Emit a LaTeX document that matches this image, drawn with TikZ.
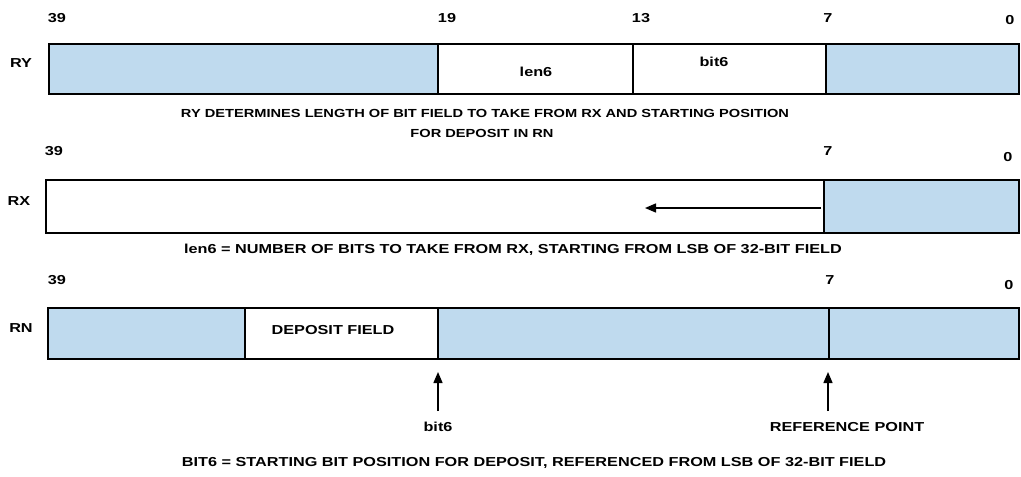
\documentclass[tikz,border=0pt]{standalone}
\usepackage{fontspec}
\setmainfont{Liberation Sans}[FakeStretch=1.25]
\usetikzlibrary{arrows.meta}
\definecolor{regblue}{HTML}{BFDAEE}
\begin{document}
\begin{tikzpicture}[x=1pt,y=-1pt,
  txt/.style={font=\fontsize{13}{15}\selectfont\bfseries, inner sep=0pt},
  smalltxt/.style={font=\fontsize{11.7}{14}\selectfont\bfseries, inner sep=0pt},
  fld/.style={draw=black, line width=1.8pt},
  bluefld/.style={fld, fill=regblue},
  whitefld/.style={fld, fill=white},
  arr/.style={line width=1.4pt, -{Triangle[length=11pt,width=9pt]}}]
\useasboundingbox (0,0) rectangle (1021,477);
% ---------- RY ----------
\node[txt] (ry) at (21,63) {RY};
\draw[bluefld] (49,44) rectangle (438,94);
\draw[whitefld] (438,44) rectangle (633,94);
\draw[whitefld] (633,44) rectangle (826,94);
\draw[bluefld] (826,44) rectangle (1019,94);
\node[txt] (len6a) at (536,72) {len6};
\node[txt] (bit6a) at (714,62) {bit6};
\node[txt] (ry39) at (57,18) {39};
\node[txt] (ry19) at (447,18) {19};
\node[txt] (ry13) at (641,18) {13};
\node[txt] (ry7) at (828,18) {7};
\node[txt] (ry0) at (1010,20) {0};
\node[smalltxt] (cap1) at (485,113) {RY DETERMINES LENGTH OF BIT FIELD TO TAKE FROM RX AND STARTING POSITION};
\node[smalltxt] (cap2) at (482,133) {FOR DEPOSIT IN RN};
% ---------- RX ----------
\node[txt] (rx) at (19,201) {RX};
\draw[whitefld] (46,180) rectangle (824,233);
\draw[bluefld] (824,180) rectangle (1019,233);
\coordinate (rxs) at (821,208);
\coordinate (rxe) at (645,208);
\draw[arr] (rxs) -- (rxe);
\node[txt] (rx39) at (54,151) {39};
\node[txt] (rx7) at (828,151) {7};
\node[txt] (rx0) at (1008,157) {0};
\node[txt] (cap3) at (513,250) {len6 = NUMBER OF BITS TO TAKE FROM RX, STARTING FROM LSB OF 32-BIT FIELD};
% ---------- RN ----------
\node[txt] (rn) at (21,328) {RN};
\draw[bluefld] (48,308) rectangle (245,359);
\draw[whitefld] (245,308) rectangle (438,359);
\draw[bluefld] (438,308) rectangle (829,359);
\draw[bluefld] (829,308) rectangle (1019,359);
\node[txt] (dep) at (333,330) {DEPOSIT FIELD};
\node[txt] (rn39) at (57,280) {39};
\node[txt] (rn7) at (830,280) {7};
\node[txt] (rn0) at (1009,285) {0};
\node[txt] (bit6b) at (438,427) {bit6};
\node[txt] (refp) at (847,427) {REFERENCE POINT};
\coordinate (b6s) at (438,411);
\coordinate (b6e) at (438,372);
\coordinate (rps) at (828,411);
\coordinate (rpe) at (828,372);
\draw[arr] (b6s) -- (b6e);
\draw[arr] (rps) -- (rpe);
\node[txt] (cap4) at (534,463) {BIT6 = STARTING BIT POSITION FOR DEPOSIT, REFERENCED FROM LSB OF 32-BIT FIELD};
\end{tikzpicture}
\end{document}
